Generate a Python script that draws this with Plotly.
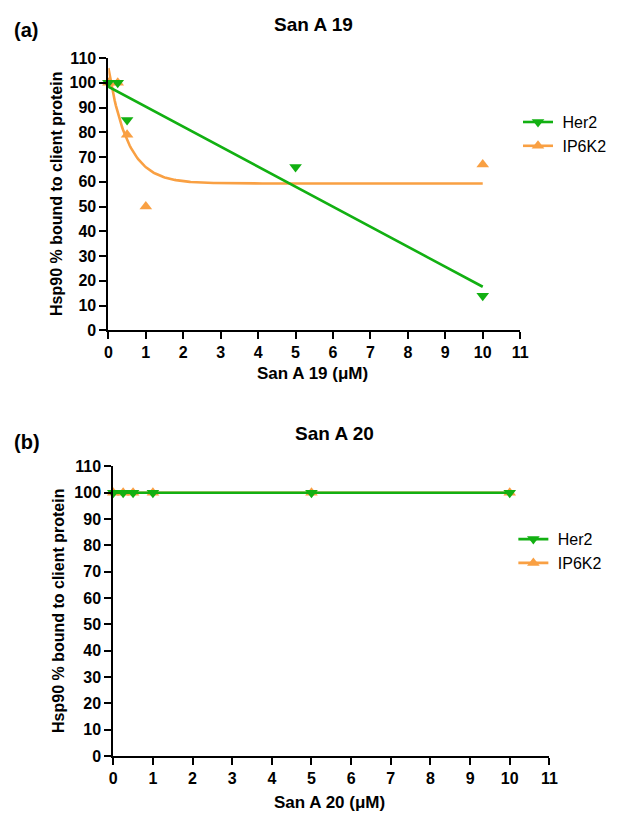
import numpy as np
import plotly.graph_objects as go

# ---------------- data ----------------
conc_a_her2 = [0, 0.25, 0.5, 5, 10]
her2_a = [100, 100, 85, 66, 14]
conc_a_ip6k2 = [0, 0.25, 0.5, 1, 10]
ip6k2_a = [100, 100, 79, 50, 67]

conc_b = [0, 0.25, 0.5, 1, 5, 10]
her2_b = [100, 100, 100, 100, 100, 100]
ip6k2_b = [100, 100, 100, 100, 100, 100]

series_names = ["Her2", "IP6K2"]
x_ticks = list(range(0, 12))
y_ticks = list(range(0, 111, 10))

GREEN = "#12B012"
ORANGE = "#F9A043"
FONT = "Liberation Sans"


def linear_fit(x, y):
    x = np.asarray(x, float); y = np.asarray(y, float)
    slope, intercept = np.polyfit(x, y, 1)
    xs = np.linspace(x.min(), x.max(), 200)
    return xs, slope * xs + intercept


def decay_fit(x, y):
    x = np.asarray(x, float); y = np.asarray(y, float)
    best = None
    for k in np.linspace(0.05, 15, 3000):
        A = np.column_stack([np.ones_like(x), np.exp(-k * x)])
        coef = np.linalg.lstsq(A, y, rcond=None)[0]
        sse = float(((A @ coef - y) ** 2).sum())
        if best is None or sse < best[0]:
            best = (sse, k, coef)
    _, k, (plateau, span) = best
    xs = np.linspace(x.min(), x.max(), 300)
    return xs, plateau + span * np.exp(-k * xs)


MS = 11
LW = 2.6
fig = go.Figure()


def legend_entry(name, color, symbol, legend, xa, ya):
    fig.add_trace(go.Scatter(x=[None], y=[None], mode="lines+markers", name="\u00a0" + name,
                             line=dict(color=color, width=LW),
                             marker=dict(symbol=symbol, size=MS, color=color),
                             legend=legend, xaxis=xa, yaxis=ya))


# ---- panel (a) ----
xs, ys = decay_fit(conc_a_ip6k2, ip6k2_a)
fig.add_trace(go.Scatter(x=xs, y=ys, mode="lines", line=dict(color=ORANGE, width=LW),
                         showlegend=False, xaxis="x", yaxis="y", hoverinfo="skip"))
xs, ys = linear_fit(conc_a_her2, her2_a)
fig.add_trace(go.Scatter(x=xs, y=ys, mode="lines", line=dict(color=GREEN, width=LW),
                         showlegend=False, xaxis="x", yaxis="y", hoverinfo="skip"))
fig.add_trace(go.Scatter(x=conc_a_ip6k2, y=ip6k2_a, mode="markers", cliponaxis=False,
                         marker=dict(symbol="triangle-up", size=MS, color=ORANGE),
                         showlegend=False, xaxis="x", yaxis="y"))
fig.add_trace(go.Scatter(x=conc_a_her2, y=her2_a, mode="markers", cliponaxis=False,
                         marker=dict(symbol="triangle-down", size=MS, color=GREEN),
                         showlegend=False, xaxis="x", yaxis="y"))
legend_entry(series_names[0], GREEN, "triangle-down", "legend", "x", "y")
legend_entry(series_names[1], ORANGE, "triangle-up", "legend", "x", "y")

# ---- panel (b) ----
xs, ys = linear_fit(conc_b, ip6k2_b)
fig.add_trace(go.Scatter(x=xs, y=ys, mode="lines", line=dict(color=ORANGE, width=LW),
                         showlegend=False, xaxis="x2", yaxis="y2", hoverinfo="skip"))
fig.add_trace(go.Scatter(x=conc_b, y=ip6k2_b, mode="markers", cliponaxis=False,
                         marker=dict(symbol="triangle-up", size=MS, color=ORANGE),
                         showlegend=False, xaxis="x2", yaxis="y2"))
xs, ys = linear_fit(conc_b, her2_b)
fig.add_trace(go.Scatter(x=xs, y=ys, mode="lines", line=dict(color=GREEN, width=LW),
                         showlegend=False, xaxis="x2", yaxis="y2", hoverinfo="skip"))
fig.add_trace(go.Scatter(x=conc_b, y=her2_b, mode="markers", cliponaxis=False,
                         marker=dict(symbol="triangle-down", size=MS, color=GREEN),
                         showlegend=False, xaxis="x2", yaxis="y2"))
legend_entry(series_names[0], GREEN, "triangle-down", "legend2", "x2", "y2")
legend_entry(series_names[1], ORANGE, "triangle-up", "legend2", "x2", "y2")

# page has an 8px body margin; keep the figure inside the window
OFF = 8
W, H = 604, 812


def px_x(p):
    return (p - OFF) / W


def px_y(p):
    return (H - (p - OFF)) / H


tickfont = dict(family=FONT, size=16, color="black", weight="bold")
common_x = dict(range=[0, 11], tickmode="array", tickvals=x_ticks, showline=True,
                linecolor="black", linewidth=2, ticks="outside", ticklen=7, tickwidth=2,
                tickcolor="black", showgrid=False, zeroline=False, tickfont=tickfont)
common_y = dict(range=[0, 110], tickmode="array", tickvals=y_ticks, showline=True,
                linecolor="black", linewidth=2, ticks="outside", ticklen=7, tickwidth=2,
                tickcolor="black", showgrid=False, zeroline=False, tickfont=tickfont)

legend_style = dict(font=dict(family=FONT, size=16, color="black"), bgcolor="rgba(0,0,0,0)",
                    xanchor="left", yanchor="top", traceorder="normal", itemwidth=30)

fig.update_layout(
    width=W, height=H, autosize=False,
    margin=dict(l=0, r=0, t=0, b=0),
    paper_bgcolor="white", plot_bgcolor="white",
    xaxis=dict(domain=[px_x(107), px_x(530)], anchor="y", **common_x),
    yaxis=dict(domain=[px_y(329), px_y(51)], anchor="x", **common_y),
    xaxis2=dict(domain=[px_x(112), px_x(560)], anchor="y2", **common_x),
    yaxis2=dict(domain=[px_y(764), px_y(468)], anchor="x2", **common_y),
    legend=dict(x=px_x(528), y=px_y(99), **legend_style),
    legend2=dict(x=px_x(523), y=px_y(525), **legend_style),
)

ann_font_big = dict(family=FONT, size=20, color="black", weight="bold")
ann_font_title = dict(family=FONT, size=19, color="black", weight="bold")
ann_font_axis = dict(family=FONT, size=17, color="black", weight="bold")
ann_font_ytitle = dict(family=FONT, size=16, color="black", weight="bold")
ytitle = "Hsp90 % bound to client protein"
anns = [
    dict(text="(a)", x=px_x(8), y=px_y(22), xanchor="left", yanchor="middle", font=ann_font_big),
    dict(text="San A 19", x=px_x(318), y=px_y(17), xanchor="center", yanchor="middle", font=ann_font_title),
    dict(text="San A 19 (μM)", x=px_x(317), y=px_y(373), xanchor="center", yanchor="middle", font=ann_font_axis),
    dict(text=ytitle, x=px_x(53), y=px_y(190), xanchor="center", yanchor="middle", textangle=-90, font=ann_font_ytitle),
    dict(text="(b)", x=px_x(8), y=px_y(443), xanchor="left", yanchor="middle", font=ann_font_big),
    dict(text="San A 20", x=px_x(339), y=px_y(434), xanchor="center", yanchor="middle", font=ann_font_title),
    dict(text="San A 20 (μM)", x=px_x(334), y=px_y(811), xanchor="center", yanchor="middle", font=ann_font_axis),
    dict(text=ytitle, x=px_x(56), y=px_y(616), xanchor="center", yanchor="middle", textangle=-90, font=ann_font_ytitle),
]
for a in anns:
    a.update(xref="paper", yref="paper", showarrow=False)
fig.update_layout(annotations=anns)

fig.write_html("out.html")
